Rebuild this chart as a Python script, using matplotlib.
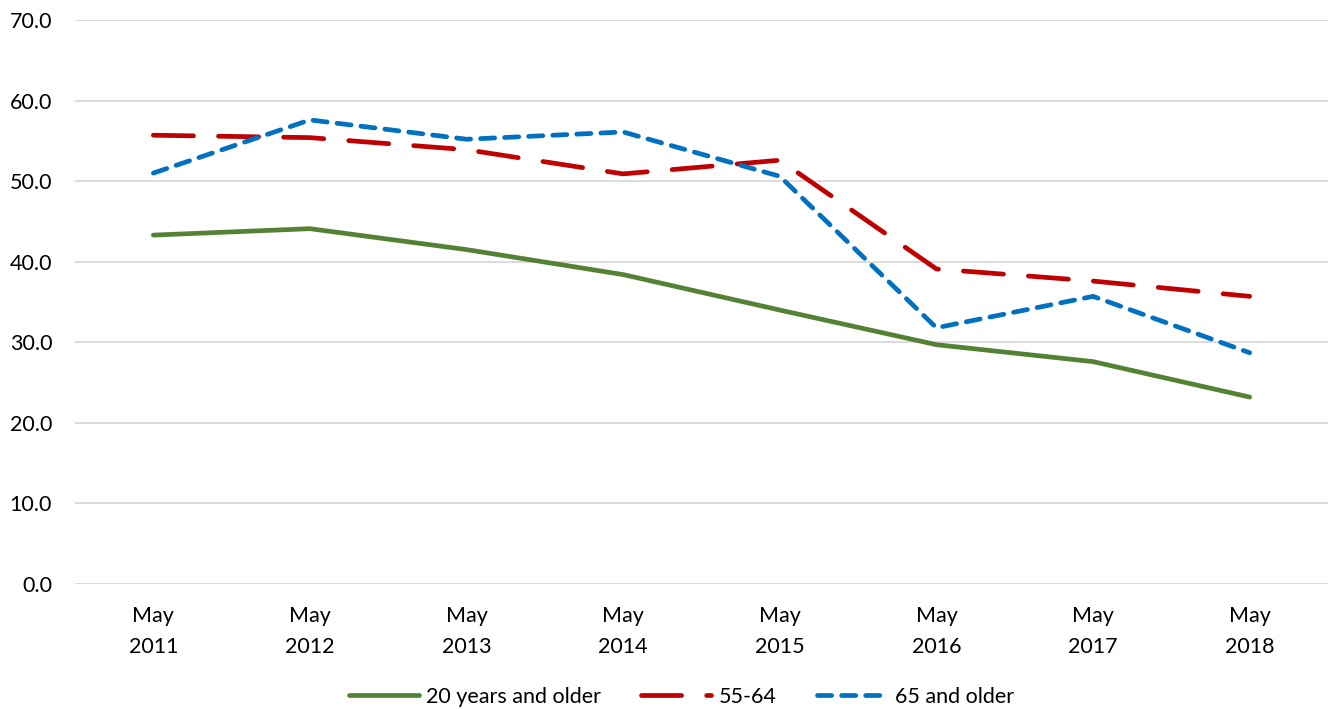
import matplotlib
matplotlib.use("Agg")
import matplotlib.pyplot as plt

years = ["May\n2011", "May\n2012", "May\n2013", "May\n2014",
         "May\n2015", "May\n2016", "May\n2017", "May\n2018"]
all_20 = [43.3, 44.1, 41.5, 38.4, 34.0, 29.7, 27.6, 23.2]
age_55_64 = [55.7, 55.4, 53.9, 50.9, 52.6, 39.1, 37.6, 35.7]
age_65 = [51.0, 57.6, 55.2, 56.1, 50.6, 31.8, 35.7, 28.7]

plt.rcParams['font.family'] = ['Lato', 'DejaVu Sans']

fig = plt.figure(figsize=(13.28, 7.09), dpi=100)
ax = fig.add_axes([0.0565, 0.1763, 0.9435, 0.7955])

x = range(len(years))
lw = 3.4
ax.plot(x, all_20, color="#548235", lw=lw, label="20 years and older",
        solid_capstyle="round")
ax.plot(x, age_55_64, color="#C00000", lw=lw, dashes=(8.5, 5.3), label="55-64",
        dash_capstyle="round")
ax.plot(x, age_65, color="#0070C0", lw=lw, dashes=(3, 2.1), label="65 and older",
        dash_capstyle="round")

ax.set_xlim(-0.5, 7.5)
ax.set_ylim(0, 70)
ax.set_yticks(range(0, 71, 10))
ax.set_yticklabels([f"{v:.1f}" for v in range(0, 71, 10)])
ax.set_xticks(list(x))
ax.set_xticklabels(years, linespacing=1.7)
ax.tick_params(length=0, labelsize=15.5, colors="#000000")
ax.tick_params(axis="x", pad=16)
ax.tick_params(axis="y", pad=16.5)
ax.grid(axis="y", color="#D9D9D9", lw=1.3)
ax.set_axisbelow(True)
for s in ax.spines.values():
    s.set_visible(False)

fig.legend(loc="center", bbox_to_anchor=(0.513, 0.017), ncol=3,
           frameon=False, fontsize=15.5, handlelength=3.25, columnspacing=1.85,
           handletextpad=0.37)

fig.savefig("out.png", dpi=100)
